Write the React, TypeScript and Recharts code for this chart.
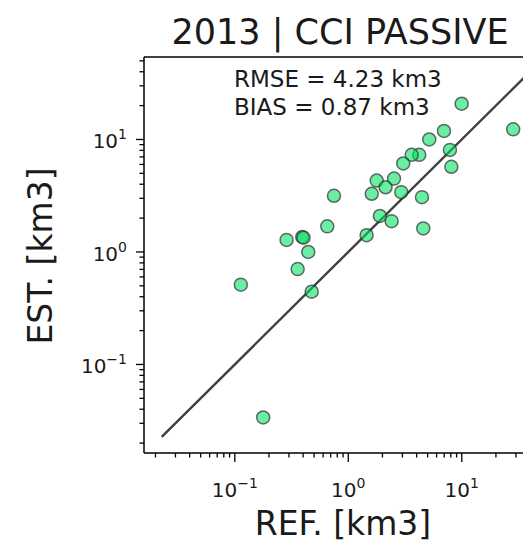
import React from 'react';
import { ScatterChart, Scatter, XAxis, YAxis, ReferenceLine } from 'recharts';

// REF. values (x) and EST. values (y), km3
const refValues = [9.98, 28.4, 6.97, 5.17, 7.87, 8.09, 4.22, 3.62, 3.05, 1.78, 2.53, 2.13, 1.61, 2.93, 4.46, 0.748, 1.9, 2.41, 4.58, 1.45, 0.653, 0.286, 0.393, 0.403, 0.444, 0.358, 0.113, 0.476, 0.178];
const estValues = [20.8, 12.3, 11.9, 10.0, 8.08, 5.72, 7.3, 7.3, 6.12, 4.31, 4.49, 3.76, 3.29, 3.4, 3.07, 3.16, 2.09, 1.88, 1.62, 1.41, 1.69, 1.28, 1.36, 1.34, 1.0, 0.704, 0.512, 0.444, 0.0338];

const majorTicks = [0.1, 1, 10];
const majorExponents = ['\u22121', '0', '1'];
const xMinorTicks = [0.02, 0.03, 0.04, 0.05, 0.06, 0.07, 0.08, 0.09, 0.2, 0.3, 0.4, 0.5, 0.6, 0.7, 0.8, 0.9, 2, 3, 4, 5, 6, 7, 8, 9, 20, 30, 40];
const yMinorTicks = [0.02, 0.03, 0.04, 0.05, 0.06, 0.07, 0.08, 0.09, 0.2, 0.3, 0.4, 0.5, 0.6, 0.7, 0.8, 0.9, 2, 3, 4, 5, 6, 7, 8, 9, 20, 30, 40, 50];
const xDomain = [0.01585, 48.9];
const yDomain = [0.01633, 54.1];
const oneToOne = [0.0227, 38.5];

const titleText = '2013 | CCI PASSIVE';
const rmseText = 'RMSE = 4.23 km3';
const biasText = 'BIAS = 0.87 km3';
const xLabel = 'REF. [km3]';
const yLabel = 'EST. [km3]';

const points = refValues.map((r, i) => ({ ref: r, est: estValues[i] }));
const xTicks = [...majorTicks, ...xMinorTicks].sort((a, b) => a - b);
const yTicks = [...majorTicks, ...yMinorTicks].sort((a, b) => a - b);

const FONT = '"DejaVu Sans", sans-serif';
const TEXT = '#1a1a1a';

const majorIndex = (v: number) => majorTicks.findIndex((m) => Math.abs(m - v) / m < 1e-6);

const XTick = (props: any) => {
  const { x, y, payload } = props;
  const idx = majorIndex(payload.value);
  const major = idx >= 0;
  return (
    <g>
      <line x1={x} x2={x} y1={y} y2={y + (major ? 9 : 4.5)} stroke="#000" strokeWidth={1.3} />
      {major && (
        <text x={x} y={y + 44} textAnchor="middle" fontSize={20} fontFamily={FONT} fill={TEXT}>
          <tspan>10</tspan>
          <tspan dy={-9} fontSize={14}>{majorExponents[idx]}</tspan>
        </text>
      )}
    </g>
  );
};

const YTick = (props: any) => {
  const { x, y, payload } = props;
  const idx = majorIndex(payload.value);
  const major = idx >= 0;
  return (
    <g>
      <line x1={x - (major ? 8 : 4.5)} x2={x} y1={y} y2={y} stroke="#000" strokeWidth={1.3} />
      {major && (
        <text x={x - 17} y={y + 9} textAnchor="end" fontSize={20} fontFamily={FONT} fill={TEXT}>
          <tspan>10</tspan>
          <tspan dy={-9} fontSize={14}>{majorExponents[idx]}</tspan>
        </text>
      )}
    </g>
  );
};

const Dot = (p: any) => (
  <circle cx={p.cx} cy={p.cy} r={6.5} fill="#00e060" fillOpacity={0.58} stroke="#2f2f2f" strokeOpacity={0.7} strokeWidth={1.5} />
);

export default function App() {
  return (
    <div style={{ width: 523, height: 535, overflow: 'hidden' }}>
      <ScatterChart width={600} height={535} margin={{ top: 49, left: 76, right: 68, bottom: 30 }}>
        <XAxis
          type="number"
          dataKey="ref"
          scale="log"
          domain={xDomain}
          allowDataOverflow
          ticks={xTicks}
          interval={0}
          tickLine={false}
          tickSize={0}
          tickMargin={0}
          height={60}
          axisLine={{ stroke: '#000', strokeWidth: 1.5 }}
          tick={(p: any) => <XTick {...p} />}
        />
        <YAxis
          type="number"
          dataKey="est"
          scale="log"
          domain={yDomain}
          allowDataOverflow
          ticks={yTicks}
          interval={0}
          tickLine={false}
          tickSize={0}
          tickMargin={0}
          width={60}
          axisLine={{ stroke: '#000', strokeWidth: 1.5 }}
          tick={(p: any) => <YTick {...p} />}
        />
        <ReferenceLine y={yDomain[1]} stroke="#000" strokeWidth={1.5} ifOverflow="visible" />
        <ReferenceLine x={xDomain[1]} stroke="#000" strokeWidth={1.5} ifOverflow="visible" />
        <Scatter data={points} shape={(p: any) => <Dot {...p} />} isAnimationActive={false} />
        <ReferenceLine
          segment={[
            { x: oneToOne[0], y: oneToOne[0] },
            { x: oneToOne[1], y: oneToOne[1] },
          ]}
          stroke="#404040"
          strokeWidth={2.4}
          ifOverflow="visible"
        />
        <text x={332} y={36} textAnchor="middle" fontSize={35} fontFamily={FONT} fill={TEXT}>
          {titleText}
        </text>
        <text x={226} y={79} fontSize={23} fontFamily={FONT} fill={TEXT}>
          {rmseText}
        </text>
        <text x={226} y={107} fontSize={23} fontFamily={FONT} fill={TEXT}>
          {biasText}
        </text>
        <text x={335} y={527} textAnchor="middle" fontSize={33} fontFamily={FONT} fill={TEXT}>
          {xLabel}
        </text>
        <text transform="translate(44, 248) rotate(-90)" textAnchor="middle" fontSize={33} fontFamily={FONT} fill={TEXT}>
          {yLabel}
        </text>
      </ScatterChart>
    </div>
  );
}
